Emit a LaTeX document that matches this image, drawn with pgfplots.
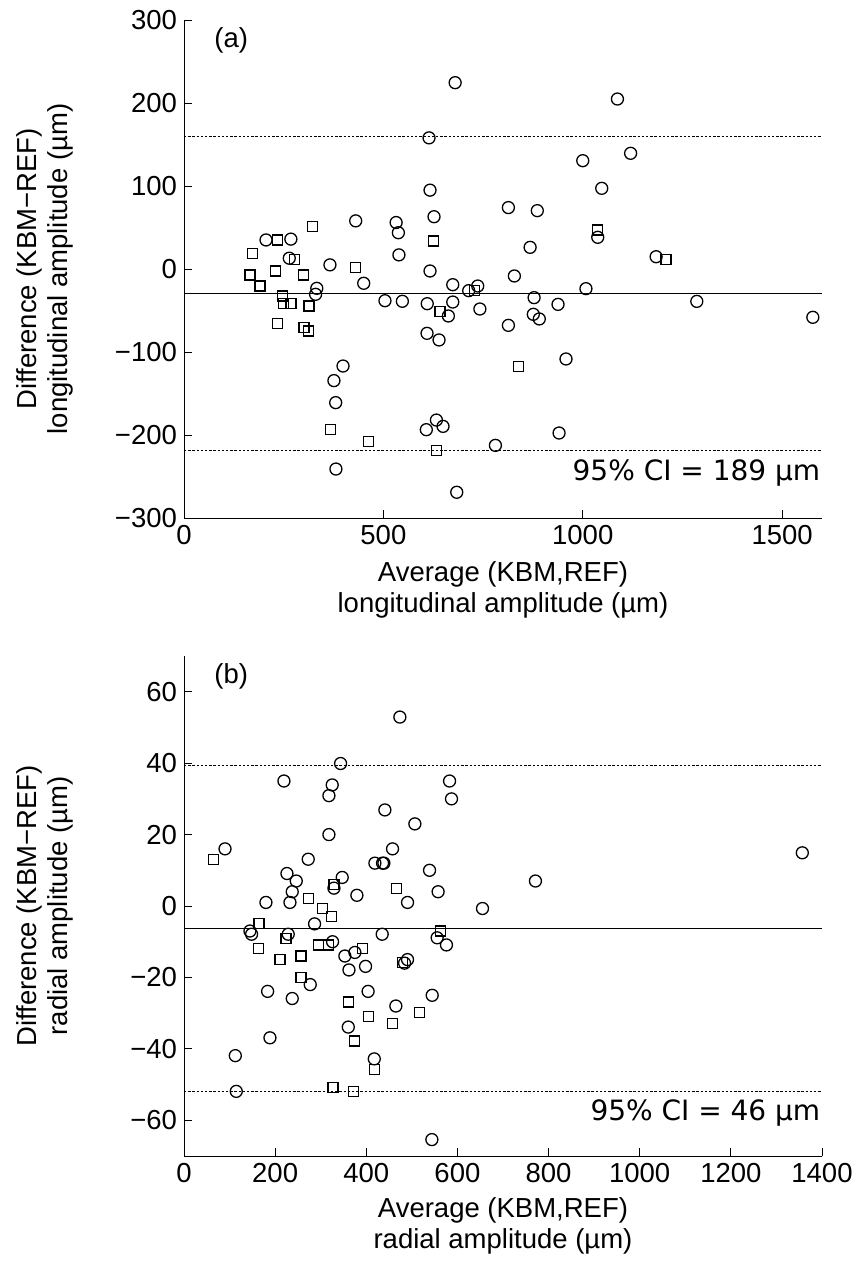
\documentclass[border=0pt]{standalone}
\usepackage{pgfplots}
\pgfplotsset{compat=1.18}
\usepackage{fontspec}
\setmainfont{Liberation Sans}
\newfontfamily\cifont{DejaVu Sans}

\pgfplotsset{
  bland/.style={
    scale only axis, width=319pt,
    axis x line*=bottom, axis y line*=left,
    tick align=inside, major tick length=4pt,
    axis line style={line width=0.5pt},
    every tick/.style={black, line width=0.5pt},
    tick label style={font=\fontsize{13.75}{15}\selectfont},
    label style={font=\fontsize{13.75}{15.5}\selectfont, align=center},
    /pgf/number format/assume math mode=true,
    /pgf/number format/1000 sep={},
    ylabel style={at={(axis description cs:-0.218,0.5)}, anchor=center},
  },
  circ/.style={only marks, black, mark=o, mark size=3pt, mark options={line width=0.65pt}},
  sqr/.style={only marks, black, mark=square, mark size=2.5pt, mark options={line width=0.6pt}},
  meanline/.style={black, line width=0.6pt},
  limline/.style={black, line width=0.5pt, dash pattern=on 1.2pt off 0.9pt},
}

\begin{document}
\begin{tikzpicture}
\useasboundingbox (0,0) rectangle (429.5pt,-635pt);

% (a) longitudinal
\begin{axis}[bland, height=249pt,
  at={(92pt,-10pt)}, anchor=north west,
  xmin=0, xmax=1600, ymin=-300, ymax=300,
  xtick={0,500,1000,1500},
  ytick={-300,-200,-100,0,100,200,300},
  yticklabels={−300,−200,−100,0,100,200,300},
  xlabel={Average (KBM,REF)\\longitudinal amplitude (µm)},
  xlabel style={at={(axis description cs:0.5,-0.145)}, anchor=center},
  ylabel={Difference (KBM−REF)\\longitudinal amplitude (µm)},
]
\addplot[meanline] coordinates {(0,-29.75) (1600,-29.75)};
\addplot[limline] coordinates {(0,159.25) (1600,159.25)};
\addplot[limline] coordinates {(0,-218.75) (1600,-218.75)};
\addplot[circ] coordinates {
(680,224.5) (614.5,158) (617,95) (813.5,74) (627,63) (430.6,58) (532,56)
(537.6,43.7) (205.7,35) (268,36) (264,13) (539,17) (366,5) (617,-2.4)
(333,-23.3) (330,-30.5) (450.7,-17.2) (504,-38.2) (547.6,-38.9) (610,-41.8)
(674,-18.9) (674,-39.8) (663,-56.6) (609.5,-77.5) (639.6,-85.5) (714,-26.1)
(736.6,-20.5) (742,-48.2) (398.8,-116.9) (376,-134.5) (380.4,-161) (633,-182)
(607.7,-193.6) (649.6,-189.6) (781,-212.5) (381,-241) (684,-269)
(1087,204.8) (1120,139.4) (1000,130.5) (1047.6,97.2) (886,70.3) (1037.6,38.2)
(868,26.1) (1184,14.8) (828.5,-8.4) (878,-34.5) (938,-42.6) (1008,-23.7)
(813.5,-67.9) (876,-54.6) (891,-60.2) (958,-108.4) (940.6,-197.6) (1286,-39)
(1577,-58.2)
};
\addplot[sqr] coordinates {
(322.7,51) (625,33.7) (235,35) (172,19) (276.7,11.7) (430.6,2) (230,-2.4)
(165.5,-7.2) (190.6,-20.5) (299,-7.2) (246.6,-32.5) (249,-41.3) (268.4,-41.3)
(313.5,-44.6) (235,-65.4) (301,-70.3) (311.8,-74.7) (642,-51) (728,-26)
(367,-193) (462,-208) (633,-219) (1037.6,47) (1209,11.7) (838.6,-117.7)
};
\node[anchor=north west, inner sep=0pt, font=\fontsize{13.75}{15}\selectfont]
  at (axis description cs:0.047,0.985) {(a)};
\node[anchor=base east, inner sep=0pt, font=\cifont\fontsize{14}{16}\selectfont]
  at (axis description cs:0.998,0.076) {95\% CI = 189 µm};
\end{axis}

% (b) radial
\begin{axis}[bland, height=250pt,
  at={(92pt,-328pt)}, anchor=north west,
  xmin=0, xmax=1400, ymin=-70, ymax=70,
  xtick={0,200,400,600,800,1000,1200,1400},
  ytick={-60,-40,-20,0,20,40,60},
  yticklabels={−60,−40,−20,0,20,40,60},
  xlabel={Average (KBM,REF)\\radial amplitude (µm)},
  xlabel style={at={(axis description cs:0.5,-0.14)}, anchor=center},
  ylabel={Difference (KBM−REF)\\radial amplitude (µm)},
]
\addplot[meanline] coordinates {(0,-6.3) (1400,-6.3)};
\addplot[limline] coordinates {(0,39.3) (1400,39.3)};
\addplot[limline] coordinates {(0,-51.9) (1400,-51.9)};
\addplot[circ] coordinates {
(473.7,52.9) (343.6,39.9) (219.3,35) (325.2,33.9) (318,30.9) (582.7,35)
(587,30) (440.8,26.9) (506.6,23) (318,20) (90,16) (272.6,13.1) (457.6,16)
(418.9,12) (435.7,12) (438.6,12) (538.8,10) (225.9,9.1) (246.3,7) (347.2,8)
(329,5) (237.5,4) (557.6,4) (179.8,1) (232.5,1) (379.4,3) (490.5,1)
(655,-0.7) (286.5,-5) (144.7,-7) (148.3,-7.9) (228.7,-7.9) (555.5,-8.9)
(575.9,-10.9) (434.9,-7.9) (326,-10) (375,-13) (353,-14) (490.5,-15)
(484,-16) (398.4,-16.9) (362,-17.9) (277,-22) (183.5,-23.9) (404,-23.9)
(237.5,-25.9) (544.6,-25) (464.9,-28) (360.5,-33.9) (188.6,-36.9)
(112.6,-41.9) (417.5,-42.8) (114.7,-51.9) (543.9,-65.4) (1356.8,14.9)
(771.2,7)
};
\addplot[sqr] coordinates {
(64.3,13.1) (329,6.1) (466.4,5) (273.4,2) (303.3,-0.8) (323.8,-3) (164.5,-5)
(223.7,-9.1) (562.9,-7) (296,-10.9) (316.5,-10.9) (163,-12) (391,-12)
(210.5,-15) (256.6,-14) (479.6,-15.9) (256.6,-20) (360.5,-26.9) (516,-29.9)
(404,-30.9) (456.8,-32.9) (373.5,-37.8) (417.5,-45.8) (326.8,-50.8)
(371.5,-51.9)
};
\node[anchor=north west, inner sep=0pt, font=\fontsize{13.75}{15}\selectfont]
  at (axis description cs:0.047,0.985) {(b)};
\node[anchor=base east, inner sep=0pt, font=\cifont\fontsize{14}{16}\selectfont]
  at (axis description cs:0.998,0.072) {95\% CI = 46 µm};
\end{axis}
\end{tikzpicture}
\end{document}
